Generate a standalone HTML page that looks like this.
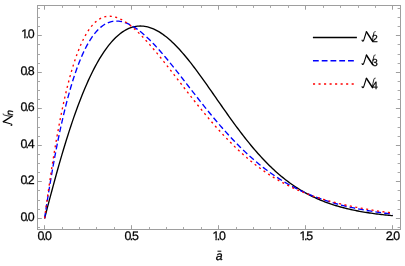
<!DOCTYPE html>
<html><head><meta charset="utf-8"><style>
html,body{margin:0;padding:0;background:#fff}
svg{display:block;will-change:transform}
text{font-family:"Liberation Sans",sans-serif;font-size:12.4px;fill:#000;stroke:#000;stroke-width:0.25px;text-rendering:geometricPrecision}
</style></head><body>
<svg width="405" height="266" viewBox="0 0 405 266">
<g fill="none" stroke-width="1.35" stroke-linejoin="round">
<path d="M44.60,218.36 L46.05,212.75 L47.50,207.18 L48.95,201.64 L50.41,196.15 L51.86,190.71 L53.31,185.32 L54.76,180.00 L56.21,174.74 L57.66,169.55 L59.11,164.43 L60.56,159.39 L62.02,154.43 L63.47,149.55 L64.92,144.76 L66.37,140.05 L67.82,135.44 L69.27,130.91 L70.72,126.48 L72.17,122.14 L73.62,117.90 L75.08,113.76 L76.53,109.71 L77.98,105.76 L79.43,101.91 L80.88,98.16 L82.33,94.50 L83.78,90.95 L85.24,87.50 L86.69,84.15 L88.14,80.89 L89.59,77.74 L91.04,74.69 L92.49,71.73 L93.94,68.88 L95.39,66.12 L96.84,63.46 L98.30,60.90 L99.75,58.43 L101.20,56.06 L102.65,53.79 L104.10,51.61 L105.55,49.53 L107.00,47.54 L108.45,45.64 L109.91,43.84 L111.36,42.13 L112.81,40.51 L114.26,38.98 L115.71,37.54 L117.16,36.19 L118.61,34.92 L120.06,33.75 L121.52,32.66 L122.97,31.65 L124.42,30.74 L125.87,29.90 L127.32,29.15 L128.77,28.48 L130.22,27.90 L131.68,27.39 L133.13,26.97 L134.58,26.62 L136.03,26.35 L137.48,26.16 L138.93,26.05 L140.38,26.01 L141.83,26.05 L143.28,26.16 L144.74,26.34 L146.19,26.60 L147.64,26.92 L149.09,27.32 L150.54,27.78 L151.99,28.31 L153.44,28.91 L154.90,29.57 L156.35,30.30 L157.80,31.09 L159.25,31.94 L160.70,32.85 L162.15,33.82 L163.60,34.85 L165.05,35.93 L166.50,37.07 L167.96,38.27 L169.41,39.51 L170.86,40.81 L172.31,42.15 L173.76,43.55 L175.21,44.99 L176.66,46.47 L178.11,48.00 L179.57,49.57 L181.02,51.18 L182.47,52.83 L183.92,54.52 L185.37,56.24 L186.82,58.00 L188.27,59.78 L189.72,61.60 L191.18,63.45 L192.63,65.32 L194.08,67.22 L195.53,69.15 L196.98,71.09 L198.43,73.06 L199.88,75.05 L201.34,77.05 L202.79,79.07 L204.24,81.10 L205.69,83.15 L207.14,85.20 L208.59,87.27 L210.04,89.34 L211.49,91.42 L212.94,93.50 L214.40,95.59 L215.85,97.67 L217.30,99.76 L218.75,101.85 L220.20,103.93 L221.65,106.01 L223.10,108.09 L224.55,110.15 L226.01,112.21 L227.46,114.26 L228.91,116.30 L230.36,118.33 L231.81,120.35 L233.26,122.35 L234.71,124.34 L236.17,126.31 L237.62,128.26 L239.07,130.20 L240.52,132.12 L241.97,134.02 L243.42,135.90 L244.87,137.76 L246.32,139.59 L247.78,141.41 L249.23,143.20 L250.68,144.97 L252.13,146.72 L253.58,148.44 L255.03,150.13 L256.48,151.81 L257.93,153.45 L259.39,155.07 L260.84,156.66 L262.29,158.23 L263.74,159.77 L265.19,161.29 L266.64,162.78 L268.09,164.24 L269.54,165.67 L271.00,167.08 L272.45,168.46 L273.90,169.81 L275.35,171.13 L276.80,172.43 L278.25,173.70 L279.70,174.95 L281.15,176.17 L282.61,177.36 L284.06,178.52 L285.51,179.66 L286.96,180.78 L288.41,181.87 L289.86,182.93 L291.31,183.97 L292.76,184.98 L294.22,185.97 L295.67,186.94 L297.12,187.88 L298.57,188.80 L300.02,189.70 L301.47,190.57 L302.92,191.42 L304.37,192.25 L305.83,193.06 L307.28,193.84 L308.73,194.61 L310.18,195.35 L311.63,196.08 L313.08,196.78 L314.53,197.47 L315.98,198.14 L317.44,198.79 L318.89,199.42 L320.34,200.03 L321.79,200.63 L323.24,201.21 L324.69,201.77 L326.14,202.32 L327.59,202.85 L329.05,203.37 L330.50,203.87 L331.95,204.36 L333.40,204.83 L334.85,205.29 L336.30,205.73 L337.75,206.17 L339.20,206.58 L340.66,206.99 L342.11,207.39 L343.56,207.77 L345.01,208.14 L346.46,208.50 L347.91,208.85 L349.36,209.19 L350.81,209.52 L352.27,209.84 L353.72,210.15 L355.17,210.45 L356.62,210.74 L358.07,211.02 L359.52,211.30 L360.97,211.56 L362.42,211.82 L363.88,212.07 L365.33,212.31 L366.78,212.54 L368.23,212.77 L369.68,212.99 L371.13,213.20 L372.58,213.41 L374.03,213.61 L375.49,213.80 L376.94,213.99 L378.39,214.17 L379.84,214.34 L381.29,214.51 L382.74,214.68 L384.19,214.84 L385.64,214.99 L387.10,215.14 L388.55,215.28 L390.00,215.42 L391.45,215.56 L392.90,215.68" stroke="#000"/>
<path d="M44.60,218.36 L46.05,208.73 L47.50,199.39 L48.95,190.34 L50.41,181.57 L51.86,173.10 L53.31,164.90 L54.76,156.99 L56.21,149.36 L57.66,142.00 L59.11,134.92 L60.56,128.10 L62.02,121.55 L63.47,115.25 L64.92,109.21 L66.37,103.42 L67.82,97.88 L69.27,92.57 L70.72,87.51 L72.17,82.67 L73.62,78.06 L75.08,73.68 L76.53,69.50 L77.98,65.54 L79.43,61.79 L80.88,58.23 L82.33,54.88 L83.78,51.71 L85.24,48.73 L86.69,45.93 L88.14,43.31 L89.59,40.86 L91.04,38.57 L92.49,36.45 L93.94,34.48 L95.39,32.67 L96.84,31.01 L98.30,29.49 L99.75,28.11 L101.20,26.87 L102.65,25.76 L104.10,24.78 L105.55,23.92 L107.00,23.18 L108.45,22.56 L109.91,22.05 L111.36,21.64 L112.81,21.35 L114.26,21.15 L115.71,21.06 L117.16,21.06 L118.61,21.15 L120.06,21.33 L121.52,21.59 L122.97,21.94 L124.42,22.37 L125.87,22.87 L127.32,23.45 L128.77,24.10 L130.22,24.82 L131.68,25.61 L133.13,26.46 L134.58,27.37 L136.03,28.34 L137.48,29.36 L138.93,30.44 L140.38,31.57 L141.83,32.76 L143.28,33.98 L144.74,35.26 L146.19,36.58 L147.64,37.93 L149.09,39.33 L150.54,40.77 L151.99,42.24 L153.44,43.75 L154.90,45.28 L156.35,46.85 L157.80,48.45 L159.25,50.07 L160.70,51.72 L162.15,53.39 L163.60,55.09 L165.05,56.80 L166.50,58.54 L167.96,60.29 L169.41,62.06 L170.86,63.84 L172.31,65.64 L173.76,67.45 L175.21,69.27 L176.66,71.11 L178.11,72.95 L179.57,74.79 L181.02,76.65 L182.47,78.50 L183.92,80.37 L185.37,82.23 L186.82,84.10 L188.27,85.97 L189.72,87.84 L191.18,89.70 L192.63,91.57 L194.08,93.43 L195.53,95.29 L196.98,97.15 L198.43,98.99 L199.88,100.84 L201.34,102.67 L202.79,104.50 L204.24,106.32 L205.69,108.13 L207.14,109.93 L208.59,111.72 L210.04,113.50 L211.49,115.26 L212.94,117.02 L214.40,118.76 L215.85,120.49 L217.30,122.20 L218.75,123.90 L220.20,125.59 L221.65,127.26 L223.10,128.91 L224.55,130.55 L226.01,132.17 L227.46,133.78 L228.91,135.36 L230.36,136.93 L231.81,138.49 L233.26,140.02 L234.71,141.54 L236.17,143.04 L237.62,144.52 L239.07,145.98 L240.52,147.42 L241.97,148.84 L243.42,150.25 L244.87,151.63 L246.32,153.00 L247.78,154.35 L249.23,155.67 L250.68,156.98 L252.13,158.27 L253.58,159.54 L255.03,160.78 L256.48,162.01 L257.93,163.22 L259.39,164.41 L260.84,165.58 L262.29,166.74 L263.74,167.87 L265.19,168.98 L266.64,170.07 L268.09,171.15 L269.54,172.21 L271.00,173.24 L272.45,174.26 L273.90,175.26 L275.35,176.24 L276.80,177.21 L278.25,178.15 L279.70,179.08 L281.15,179.99 L282.61,180.89 L284.06,181.76 L285.51,182.62 L286.96,183.47 L288.41,184.29 L289.86,185.10 L291.31,185.90 L292.76,186.67 L294.22,187.44 L295.67,188.18 L297.12,188.91 L298.57,189.63 L300.02,190.33 L301.47,191.02 L302.92,191.69 L304.37,192.35 L305.83,192.99 L307.28,193.63 L308.73,194.24 L310.18,194.85 L311.63,195.44 L313.08,196.02 L314.53,196.58 L315.98,197.14 L317.44,197.68 L318.89,198.21 L320.34,198.73 L321.79,199.24 L323.24,199.73 L324.69,200.22 L326.14,200.70 L327.59,201.16 L329.05,201.61 L330.50,202.06 L331.95,202.49 L333.40,202.92 L334.85,203.33 L336.30,203.74 L337.75,204.14 L339.20,204.53 L340.66,204.90 L342.11,205.28 L343.56,205.64 L345.01,205.99 L346.46,206.34 L347.91,206.68 L349.36,207.01 L350.81,207.34 L352.27,207.65 L353.72,207.96 L355.17,208.27 L356.62,208.56 L358.07,208.85 L359.52,209.14 L360.97,209.41 L362.42,209.68 L363.88,209.95 L365.33,210.21 L366.78,210.46 L368.23,210.71 L369.68,210.95 L371.13,211.18 L372.58,211.41 L374.03,211.64 L375.49,211.86 L376.94,212.07 L378.39,212.28 L379.84,212.49 L381.29,212.69 L382.74,212.88 L384.19,213.08 L385.64,213.26 L387.10,213.44 L388.55,213.62 L390.00,213.79 L391.45,213.96 L392.90,214.13" stroke="#0000ff" stroke-dasharray="5.75 3.0"/>
<path d="M44.60,218.36 L46.05,207.54 L47.50,197.04 L48.95,186.86 L50.41,177.01 L51.86,167.50 L53.31,158.32 L54.76,149.48 L56.21,140.97 L57.66,132.81 L59.11,124.98 L60.56,117.48 L62.02,110.31 L63.47,103.47 L64.92,96.95 L66.37,90.74 L67.82,84.84 L69.27,79.25 L70.72,73.95 L72.17,68.94 L73.62,64.21 L75.08,59.76 L76.53,55.58 L77.98,51.65 L79.43,47.98 L80.88,44.56 L82.33,41.37 L83.78,38.41 L85.24,35.67 L86.69,33.15 L88.14,30.84 L89.59,28.72 L91.04,26.80 L92.49,25.06 L93.94,23.50 L95.39,22.11 L96.84,20.89 L98.30,19.82 L99.75,18.91 L101.20,18.14 L102.65,17.51 L104.10,17.02 L105.55,16.65 L107.00,16.41 L108.45,16.28 L109.91,16.27 L111.36,16.36 L112.81,16.56 L114.26,16.85 L115.71,17.24 L117.16,17.71 L118.61,18.28 L120.06,18.92 L121.52,19.64 L122.97,20.44 L124.42,21.30 L125.87,22.23 L127.32,23.23 L128.77,24.28 L130.22,25.39 L131.68,26.56 L133.13,27.78 L134.58,29.05 L136.03,30.36 L137.48,31.72 L138.93,33.12 L140.38,34.56 L141.83,36.04 L143.28,37.55 L144.74,39.10 L146.19,40.67 L147.64,42.28 L149.09,43.91 L150.54,45.57 L151.99,47.25 L153.44,48.95 L154.90,50.68 L156.35,52.42 L157.80,54.19 L159.25,55.96 L160.70,57.76 L162.15,59.56 L163.60,61.38 L165.05,63.21 L166.50,65.05 L167.96,66.90 L169.41,68.76 L170.86,70.62 L172.31,72.49 L173.76,74.36 L175.21,76.23 L176.66,78.11 L178.11,79.99 L179.57,81.87 L181.02,83.75 L182.47,85.63 L183.92,87.50 L185.37,89.37 L186.82,91.24 L188.27,93.10 L189.72,94.96 L191.18,96.81 L192.63,98.66 L194.08,100.50 L195.53,102.33 L196.98,104.15 L198.43,105.96 L199.88,107.76 L201.34,109.55 L202.79,111.32 L204.24,113.09 L205.69,114.84 L207.14,116.58 L208.59,118.31 L210.04,120.02 L211.49,121.72 L212.94,123.41 L214.40,125.07 L215.85,126.73 L217.30,128.36 L218.75,129.98 L220.20,131.59 L221.65,133.17 L223.10,134.74 L224.55,136.29 L226.01,137.83 L227.46,139.34 L228.91,140.84 L230.36,142.31 L231.81,143.77 L233.26,145.21 L234.71,146.63 L236.17,148.04 L237.62,149.42 L239.07,150.78 L240.52,152.12 L241.97,153.45 L243.42,154.75 L244.87,156.03 L246.32,157.30 L247.78,158.54 L249.23,159.76 L250.68,160.97 L252.13,162.15 L253.58,163.32 L255.03,164.46 L256.48,165.59 L257.93,166.69 L259.39,167.78 L260.84,168.85 L262.29,169.89 L263.74,170.92 L265.19,171.93 L266.64,172.92 L268.09,173.90 L269.54,174.85 L271.00,175.79 L272.45,176.71 L273.90,177.61 L275.35,178.49 L276.80,179.35 L278.25,180.20 L279.70,181.03 L281.15,181.85 L282.61,182.64 L284.06,183.42 L285.51,184.19 L286.96,184.94 L288.41,185.67 L289.86,186.39 L291.31,187.10 L292.76,187.78 L294.22,188.46 L295.67,189.12 L297.12,189.76 L298.57,190.40 L300.02,191.01 L301.47,191.62 L302.92,192.21 L304.37,192.79 L305.83,193.36 L307.28,193.91 L308.73,194.46 L310.18,194.99 L311.63,195.51 L313.08,196.02 L314.53,196.52 L315.98,197.00 L317.44,197.48 L318.89,197.95 L320.34,198.41 L321.79,198.85 L323.24,199.29 L324.69,199.72 L326.14,200.14 L327.59,200.55 L329.05,200.96 L330.50,201.35 L331.95,201.74 L333.40,202.12 L334.85,202.49 L336.30,202.85 L337.75,203.21 L339.20,203.56 L340.66,203.91 L342.11,204.24 L343.56,204.57 L345.01,204.90 L346.46,205.22 L347.91,205.53 L349.36,205.84 L350.81,206.14 L352.27,206.44 L353.72,206.73 L355.17,207.02 L356.62,207.30 L358.07,207.58 L359.52,207.85 L360.97,208.12 L362.42,208.39 L363.88,208.65 L365.33,208.90 L366.78,209.16 L368.23,209.41 L369.68,209.65 L371.13,209.89 L372.58,210.13 L374.03,210.37 L375.49,210.60 L376.94,210.83 L378.39,211.05 L379.84,211.27 L381.29,211.49 L382.74,211.71 L384.19,211.92 L385.64,212.13 L387.10,212.34 L388.55,212.54 L390.00,212.74 L391.45,212.94 L392.90,213.13" stroke="#ff0000" stroke-dasharray="2.05 3.47"/>
</g>
<rect x="37.5" y="5.5" width="363.0" height="224.0" fill="none" stroke="#9e9e9e" stroke-width="1"/>
<path d="M44.50,229.5 v-4.3 M44.50,5.5 v4.2 M131.50,229.5 v-4.3 M131.50,5.5 v4.2 M218.50,229.5 v-4.3 M218.50,5.5 v4.2 M305.50,229.5 v-4.3 M305.50,5.5 v4.2 M392.50,229.5 v-4.3 M392.50,5.5 v4.2 M37.5,218.50 h4.3 M400.5,218.50 h-4.6 M37.5,181.50 h4.3 M400.5,181.50 h-4.6 M37.5,145.50 h4.3 M400.5,145.50 h-4.6 M37.5,108.50 h4.3 M400.5,108.50 h-4.6 M37.5,72.50 h4.3 M400.5,72.50 h-4.6 M37.5,35.50 h4.3 M400.5,35.50 h-4.6" stroke="#9e9e9e" stroke-width="1" fill="none"/>
<path d="M62.50,229.5 v-2.5 M62.50,5.5 v2.4 M79.50,229.5 v-2.5 M79.50,5.5 v2.4 M96.50,229.5 v-2.5 M96.50,5.5 v2.4 M114.50,229.5 v-2.5 M114.50,5.5 v2.4 M149.50,229.5 v-2.5 M149.50,5.5 v2.4 M166.50,229.5 v-2.5 M166.50,5.5 v2.4 M183.50,229.5 v-2.5 M183.50,5.5 v2.4 M201.50,229.5 v-2.5 M201.50,5.5 v2.4 M236.50,229.5 v-2.5 M236.50,5.5 v2.4 M253.50,229.5 v-2.5 M253.50,5.5 v2.4 M270.50,229.5 v-2.5 M270.50,5.5 v2.4 M288.50,229.5 v-2.5 M288.50,5.5 v2.4 M323.50,229.5 v-2.5 M323.50,5.5 v2.4 M340.50,229.5 v-2.5 M340.50,5.5 v2.4 M358.50,229.5 v-2.5 M358.50,5.5 v2.4 M375.50,229.5 v-2.5 M375.50,5.5 v2.4 M37.5,227.50 h2.5 M400.5,227.50 h-2.9 M37.5,209.50 h2.5 M400.5,209.50 h-2.9 M37.5,200.50 h2.5 M400.5,200.50 h-2.9 M37.5,190.50 h2.5 M400.5,190.50 h-2.9 M37.5,172.50 h2.5 M400.5,172.50 h-2.9 M37.5,163.50 h2.5 M400.5,163.50 h-2.9 M37.5,154.50 h2.5 M400.5,154.50 h-2.9 M37.5,136.50 h2.5 M400.5,136.50 h-2.9 M37.5,127.50 h2.5 M400.5,127.50 h-2.9 M37.5,117.50 h2.5 M400.5,117.50 h-2.9 M37.5,99.50 h2.5 M400.5,99.50 h-2.9 M37.5,90.50 h2.5 M400.5,90.50 h-2.9 M37.5,81.50 h2.5 M400.5,81.50 h-2.9 M37.5,63.50 h2.5 M400.5,63.50 h-2.9 M37.5,54.50 h2.5 M400.5,54.50 h-2.9 M37.5,44.50 h2.5 M400.5,44.50 h-2.9 M37.5,26.50 h2.5 M400.5,26.50 h-2.9 M37.5,17.50 h2.5 M400.5,17.50 h-2.9 M37.5,8.50 h2.5 M400.5,8.50 h-2.9" stroke="#a8a8a8" stroke-width="1" fill="none"/>
<g><text x="37.45" y="239.85">0</text><text x="42.65" y="239.85">.</text><text x="44.90" y="239.85">0</text><text x="124.53" y="239.85">0</text><text x="129.72" y="239.85">.</text><text x="131.97" y="239.85">5</text><text x="212.40" y="239.85">1</text><rect x="212.00" y="238.45" width="3.42" height="2.9" fill="#fff"/><rect x="216.71" y="238.45" width="2.45" height="2.9" fill="#fff"/><text x="216.80" y="239.85">.</text><text x="219.05" y="239.85">0</text><text x="299.48" y="239.85">1</text><rect x="299.08" y="238.45" width="3.42" height="2.9" fill="#fff"/><rect x="303.79" y="238.45" width="2.45" height="2.9" fill="#fff"/><text x="303.88" y="239.85">.</text><text x="306.13" y="239.85">5</text><text x="385.75" y="239.85">2</text><text x="390.95" y="239.85">.</text><text x="393.20" y="239.85">0</text><text x="20.40" y="220.76">0</text><text x="25.60" y="220.76">.</text><text x="27.85" y="220.76">0</text><text x="20.40" y="184.24">0</text><text x="25.60" y="184.24">.</text><text x="27.85" y="184.24">2</text><text x="20.40" y="147.72">0</text><text x="25.60" y="147.72">.</text><text x="27.85" y="147.72">4</text><text x="20.40" y="111.20">0</text><text x="25.60" y="111.20">.</text><text x="27.85" y="111.20">6</text><text x="20.40" y="74.68">0</text><text x="25.60" y="74.68">.</text><text x="27.85" y="74.68">8</text><text x="21.20" y="38.16">1</text><rect x="20.80" y="36.76" width="3.42" height="2.9" fill="#fff"/><rect x="25.51" y="36.76" width="2.45" height="2.9" fill="#fff"/><text x="25.60" y="38.16">.</text><text x="27.85" y="38.16">0</text></g>
<path d="M312.9,37.45 H356.9" stroke="#000" stroke-width="1.45" stroke-linecap="butt" fill="none"/><g transform="translate(362.1,31.250000000000004)" fill="none" stroke="#000" stroke-linecap="round" stroke-linejoin="round"><path d="M0.0,8.9 C0.2,10.4 1.4,10.4 1.9,8.1 L4.3,0.5" stroke-width="1.1"/><path d="M10.4,9.9 C10.5,7.2 10.9,4.0 11.9,1.2 C12.2,0.5 12.6,0.3 13.1,0.35" stroke-width="0.85"/><path d="M4.4,0.7 L10.4,9.9" stroke-width="1.5"/></g><text x="371.9" y="42.35" style="font-size:10.4px">2</text><path d="M312.95,60.75 H353.9" stroke="#0000ff" stroke-width="1.45" stroke-linecap="butt" fill="none" stroke-dasharray="5.8 2.97"/><g transform="translate(362.1,54.55)" fill="none" stroke="#000" stroke-linecap="round" stroke-linejoin="round"><path d="M0.0,8.9 C0.2,10.4 1.4,10.4 1.9,8.1 L4.3,0.5" stroke-width="1.1"/><path d="M10.4,9.9 C10.5,7.2 10.9,4.0 11.9,1.2 C12.2,0.5 12.6,0.3 13.1,0.35" stroke-width="0.85"/><path d="M4.4,0.7 L10.4,9.9" stroke-width="1.5"/></g><text x="371.9" y="65.65" style="font-size:10.4px">3</text><path d="M313.0,83.95 H353.9" stroke="#ff0000" stroke-width="1.5" stroke-linecap="butt" fill="none" stroke-dasharray="2.1 3.42"/><g transform="translate(362.1,77.75)" fill="none" stroke="#000" stroke-linecap="round" stroke-linejoin="round"><path d="M0.0,8.9 C0.2,10.4 1.4,10.4 1.9,8.1 L4.3,0.5" stroke-width="1.1"/><path d="M10.4,9.9 C10.5,7.2 10.9,4.0 11.9,1.2 C12.2,0.5 12.6,0.3 13.1,0.35" stroke-width="0.85"/><path d="M4.4,0.7 L10.4,9.9" stroke-width="1.5"/></g><text x="371.9" y="88.85" style="font-size:10.4px">4</text>
<text x="215.75" y="259.7" style="font-style:italic">a</text>
<path d="M217.5,251.2 h3.8" stroke="#000" stroke-width="1.0"/>
<g transform="translate(2.75,125.5) rotate(-90) scale(0.885,0.93)" fill="none" stroke="#000" stroke-linecap="round" stroke-linejoin="round"><path d="M0.0,8.9 C0.2,10.4 1.4,10.4 1.9,8.1 L4.3,0.5" stroke-width="1.1"/><path d="M10.4,9.9 C10.5,7.2 10.9,4.0 11.9,1.2 C12.2,0.5 12.6,0.3 13.1,0.35" stroke-width="0.85"/><path d="M4.4,0.7 L10.4,9.9" stroke-width="1.5"/></g>
<text transform="translate(12.65,115.6) rotate(-90)" style="font-style:italic;font-size:9.8px">n</text>
</svg>
</body></html>
